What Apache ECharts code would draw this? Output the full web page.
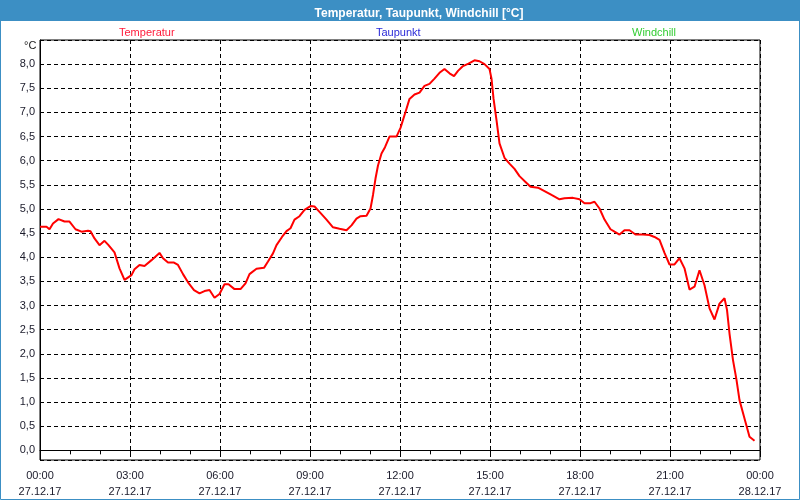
<!DOCTYPE html>
<html>
<head>
<meta charset="utf-8">
<script src="https://cdn.jsdelivr.net/npm/echarts@6/dist/echarts.min.js"></script>
<style>html,body{margin:0;padding:0;background:#fff}#c{width:800px;height:500px}</style>
</head>
<body>
<div id="c"></div>
<script>
// Minutes since 27.12.17 00:00
const minutes = [0,13,19,26,37,49,59,71,83,96,101,109,119,129,137,149,159,169,183,189,199,209,223,239,246,256,268,276,286,296,308,319,329,339,349,359,369,377,389,401,411,419,433,448,456,466,473,484,493,501,509,519,529,541,549,559,573,586,599,613,623,633,641,653,661,666,671,676,683,690,699,713,721,731,739,749,759,769,779,789,799,809,819,828,836,846,857,869,879,889,899,903,907,913,919,929,939,949,959,971,981,996,1009,1023,1039,1049,1066,1079,1089,1101,1109,1119,1129,1141,1149,1159,1169,1179,1191,1206,1219,1229,1239,1249,1259,1269,1279,1289,1299,1309,1319,1329,1339,1349,1359,1369,1374,1379,1386,1393,1399,1409,1419,1429];
const temperatur = [4.63,4.63,4.58,4.70,4.79,4.74,4.74,4.58,4.53,4.55,4.54,4.39,4.25,4.34,4.25,4.10,3.77,3.53,3.63,3.75,3.84,3.82,3.94,4.09,3.98,3.89,3.89,3.84,3.65,3.48,3.32,3.25,3.30,3.32,3.16,3.24,3.44,3.44,3.34,3.34,3.46,3.65,3.76,3.78,3.91,4.08,4.25,4.42,4.54,4.60,4.78,4.85,4.98,5.06,5.05,4.94,4.78,4.62,4.59,4.56,4.66,4.80,4.85,4.86,5.01,5.29,5.63,5.90,6.15,6.28,6.50,6.50,6.68,7.01,7.28,7.37,7.41,7.55,7.59,7.70,7.82,7.90,7.81,7.75,7.86,7.96,8.01,8.08,8.06,8.00,7.90,7.70,7.29,6.84,6.36,6.06,5.94,5.83,5.68,5.56,5.46,5.44,5.37,5.29,5.20,5.22,5.23,5.20,5.12,5.12,5.15,5.01,4.78,4.58,4.53,4.47,4.56,4.56,4.47,4.47,4.46,4.42,4.36,4.09,3.85,3.85,3.98,3.77,3.33,3.39,3.73,3.42,2.94,2.71,3.04,3.15,2.91,2.42,1.87,1.46,1.04,0.66,0.28,0.20];
const taupunkt = [];
const windchill = [];
const xTickLabels = ['00:00\n27.12.17','03:00\n27.12.17','06:00\n27.12.17','09:00\n27.12.17','12:00\n27.12.17','15:00\n27.12.17','18:00\n27.12.17','21:00\n27.12.17','00:00\n28.12.17'];
const seriesNames = ['Temperatur','Taupunkt','Windchill'];
const seriesColors = ['#ff0000','#0000ff','#00cc00'];
const legendColors = ['#ff1a3a','#2a2ad8','#33cc33'];

const FONT = 'Liberation Sans';
const chart = echarts.init(document.getElementById('c'), null, {renderer:'canvas'});
const legendLefts = [108, 365, 621];
chart.setOption({
  animation: false,
  backgroundColor: '#ffffff',
  graphic: [
    {type:'rect', z:-10, silent:true, shape:{x:0,y:0,width:800,height:21}, style:{fill:'#3c8fc4'}},
    {type:'rect', z:100, silent:true, shape:{x:0.5,y:0.5,width:799,height:499}, style:{fill:null, stroke:'#3c8fc4', lineWidth:1}},
    {type:'text', silent:true, left:24, top:40, style:{text:'°C', font:'11px "'+FONT+'"', fill:'#1a1a1a'}}
  ],
  title: {
    text: 'Temperatur, Taupunkt, Windchill [°C]',
    left: 414, top: 3, textAlign: 'center',
    textStyle: {color:'#ffffff', fontFamily: FONT, fontSize: 12, fontWeight:'bold'}
  },
  legend: seriesNames.map((n,i)=>({
    data:[{name:n, icon:'rect', textStyle:{color:legendColors[i]}}],
    left: legendLefts[i], top: 22, itemWidth: 1, itemHeight: 1, itemGap: 0,
    selectedMode: false,
    itemStyle:{opacity:0, borderWidth:0}, lineStyle:{opacity:0, width:0},
    textStyle:{fontFamily:FONT, fontSize:11}
  })),
  grid: {left:40, right:40, top:40, bottom:40, show:true, borderColor:'#000', borderWidth:1, backgroundColor:'#ffffff'},
  xAxis: {
    type:'value', min:0, max:1440, interval:180,
    axisLine:{show:true, lineStyle:{color:'#000', width:1}},
    axisTick:{show:true, length:4, lineStyle:{color:'#000'}},
    minorTick:{show:true, splitNumber:3, length:4, lineStyle:{color:'#000'}},
    splitLine:{show:true, lineStyle:{color:'#000', type:[4,3], width:1}},
    axisLabel:{
      color:'#1a1a2a', fontFamily:FONT, fontSize:11, lineHeight:16, margin:8,
      formatter: v => xTickLabels[Math.round(v/180)] || ''
    }
  },
  yAxis: {
    type:'value', min:-0.2, max:8.5, splitNumber:17,
    axisLine:{show:true, lineStyle:{color:'#000', width:1}},
    axisTick:{show:false},
    splitLine:{show:true, lineStyle:{color:'#000', type:[4,3], width:1}},
    axisLabel:{
      color:'#1a1a2a', fontFamily:FONT, fontSize:11, margin:5,
      formatter: v => {
        if (v < -0.001 || v > 8.001) return '';
        if (Math.abs(v*2 - Math.round(v*2)) > 1e-6) return '';
        return v.toFixed(1).replace('.', ',');
      }
    }
  },
  series: [
    {name:seriesNames[0], type:'line', data: minutes.map((m,i)=>[m, temperatur[i]]), showSymbol:false, symbol:'none',
     lineStyle:{color:seriesColors[0], width:2}, itemStyle:{color:seriesColors[0]}},
    {name:seriesNames[1], type:'line', data: taupunkt, showSymbol:false, lineStyle:{color:seriesColors[1]}, itemStyle:{color:seriesColors[1]}},
    {name:seriesNames[2], type:'line', data: windchill, showSymbol:false, lineStyle:{color:seriesColors[2]}, itemStyle:{color:seriesColors[2]}}
  ]
});
</script>
</body>
</html>
